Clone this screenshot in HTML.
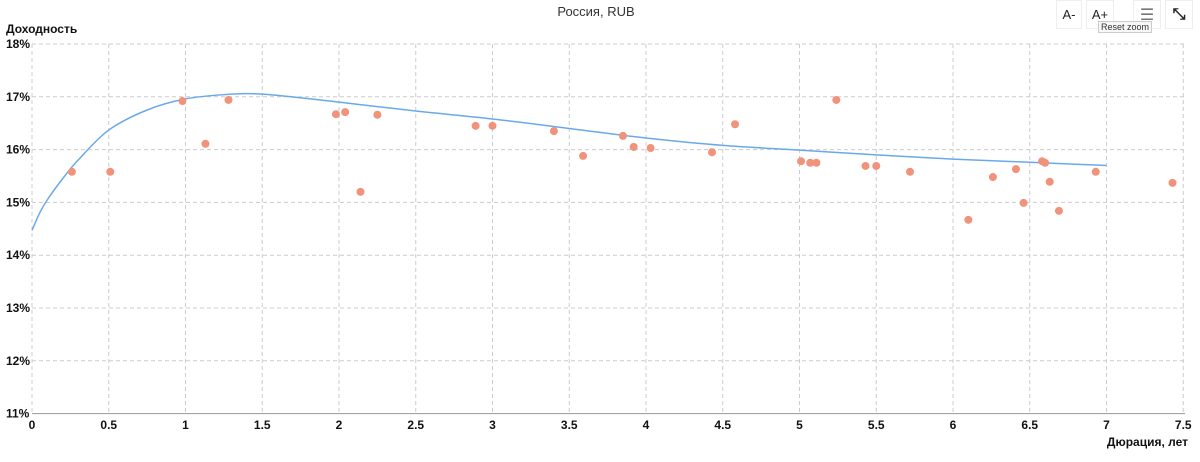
<!DOCTYPE html>
<html><head><meta charset="utf-8"><style>
body{margin:0;background:#fff;font-family:"Liberation Sans","DejaVu Sans",sans-serif;}
.btn{position:absolute;top:0;height:27px;background:#fff;border:1px solid #eee;font-size:13px;color:#222;display:flex;align-items:center;justify-content:center;}
</style></head><body>
<div style="position:relative;width:1200px;height:462px;overflow:hidden">
<svg id="chart" width="1200" height="462" style="position:absolute;left:0;top:0">
<text x="596" y="16" text-anchor="middle" font-size="13" fill="#333">Россия, RUB</text>
<text x="6" y="33" font-size="12" font-weight="bold" fill="#111">Доходность</text>
<text x="1188" y="446" text-anchor="end" font-size="12" font-weight="bold" fill="#111">Дюрация, лет</text>
<g id="grid"></g><g id="curve"></g><g id="pts"></g>
</svg>
<div class="btn" style="left:1056px;width:24px">A-</div>
<div class="btn" style="left:1086px;width:26px">A+</div>
<div class="btn" style="left:1133px;width:26px;font-size:16px;color:#777">☰</div>
<div class="btn" style="left:1165px;width:26px;font-size:16px;font-weight:bold">⤡</div>
<div style="position:absolute;left:1098px;top:21px;font-size:9px;color:#333;background:#f7f7f7;border:1px solid #ccc;padding:0 2px">Reset zoom</div>
</div>
<script>
const xTicks=[0,0.5,1,1.5,2,2.5,3,3.5,4,4.5,5,5.5,6,6.5,7,7.5];
const yTicks=[11,12,13,14,15,16,17,18];
const curveX=[0,0.05,0.1,0.2,0.3,0.5,0.75,1,1.25,1.5,2,2.5,3,3.5,4,4.5,5,5.5,6,6.5,7];
const curveY=[14.47,14.8,15.05,15.45,15.8,16.37,16.75,16.96,17.04,17.05,16.9,16.73,16.58,16.4,16.22,16.08,15.99,15.9,15.82,15.76,15.7];
const bondX=[0.26,0.51,0.98,1.13,1.28,1.98,2.04,2.14,2.25,2.89,3.0,3.4,3.59,3.85,3.92,4.03,4.43,4.58,5.01,5.07,5.11,5.24,5.43,5.5,5.72,6.1,6.26,6.41,6.46,6.58,6.6,6.63,6.69,6.93,7.43];
const bondY=[15.58,15.58,16.92,16.11,16.94,16.67,16.71,15.2,16.66,16.45,16.45,16.35,15.88,16.26,16.05,16.03,15.95,16.48,15.78,15.75,15.75,16.94,15.69,15.69,15.58,14.67,15.48,15.63,14.99,15.78,15.75,15.39,14.84,15.58,15.37];
const X=v=>32+v*153.5, Y=v=>44+(18-v)*52.8;
const NS="http://www.w3.org/2000/svg";
function mk(t,a,p){const e=document.createElementNS(NS,t);for(const k in a)e.setAttribute(k,a[k]);p.appendChild(e);return e;}
const g=document.getElementById('grid');
yTicks.forEach(t=>{
 const l=mk('line',{x1:32,x2:1185,y1:Y(t),y2:Y(t),stroke:t==11?'#999':'#ccc','stroke-dasharray':t==11?'':'4,3'},g);
 
 
 const tx=mk('text',{x:6,y:Y(t)+4,'font-size':12,'font-weight':'bold',fill:'#111'},g);tx.textContent=t+'%';
 
 
});
xTicks.forEach(t=>{
 const l=mk('line',{x1:X(t),x2:X(t),y1:44,y2:Y(11),stroke:'#ccc','stroke-dasharray':'4,3'},g);
 
 
 const tx=mk('text',{x:X(t),y:429,'font-size':12,'font-weight':'bold',fill:'#111','text-anchor':'middle'},g);tx.textContent=t;
 
 
});
const P=curveX.map((x,i)=>[X(x),Y(curveY[i])]);
let d='M'+P[0][0]+','+P[0][1];
for(let i=0;i<P.length-1;i++){
 const p0=P[Math.max(0,i-1)],p1=P[i],p2=P[i+1],p3=P[Math.min(P.length-1,i+2)];
 const c1=[p1[0]+(p2[0]-p0[0])/6,p1[1]+(p2[1]-p0[1])/6],c2=[p2[0]-(p3[0]-p1[0])/6,p2[1]-(p3[1]-p1[1])/6];
 d+=`C${c1[0]},${c1[1]} ${c2[0]},${c2[1]} ${p2[0]},${p2[1]}`;
}
const p=mk('path',{d:d,fill:'none',stroke:'#6aa9e9','stroke-width':1.5},document.getElementById('curve'));


const pg=document.getElementById('pts');
bondX.forEach((x,i)=>{
 const c=mk('circle',{cx:X(x),cy:Y(bondY[i]),r:4,fill:'#f0937a'},pg);
 
 
});
</script>
</body></html>
